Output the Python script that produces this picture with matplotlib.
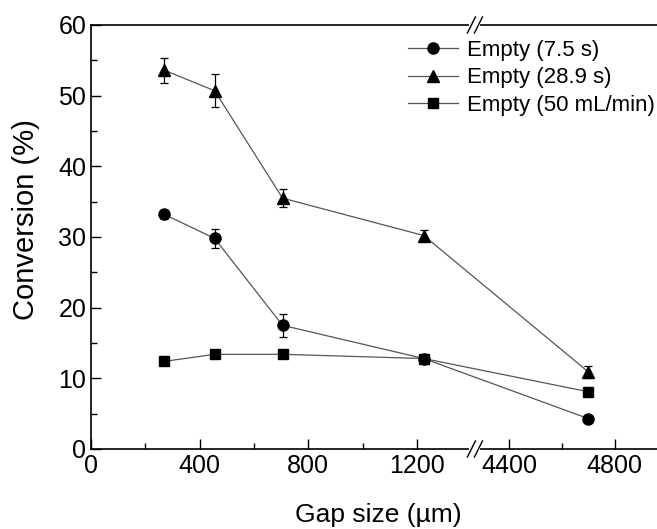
import numpy as np
import matplotlib
matplotlib.use('Agg')
import matplotlib.pyplot as plt
from matplotlib.ticker import FixedLocator

plt.rcParams['font.family'] = ['Liberation Sans', 'DejaVu Sans']

# datos
gap = [270, 455, 705, 1225, 4700]
conv_75 = [33.2, 29.8, 17.5, 12.8, 4.3]
err_75 = [0.6, 1.3, 1.6, 0.3, 0.3]
conv_289 = [53.6, 50.7, 35.5, 30.2, 10.9]
err_289 = [1.8, 2.3, 1.3, 0.8, 0.9]
conv_50 = [12.4, 13.4, 13.4, 12.8, 8.1]
err_50 = [0.3, 0.3, 0.3, 0.3, 0.3]
etiquetas = ['Empty (7.5 s)', 'Empty (28.9 s)', 'Empty (50 mL/min)']

# eje x partido: 0-1400 y 4285-fin
b1, b2, g = 1400.0, 4285.0, 26.0
k = 0.975

def fwd(x):
    x = np.asarray(x, dtype=float)
    return np.where(x <= b1, x, np.where(x >= b2, b1 + g + (x - b2) * k,
                                         b1 + (x - b1) * g / (b2 - b1)))

def inv(y):
    y = np.asarray(y, dtype=float)
    return np.where(y <= b1, y, np.where(y >= b1 + g, b2 + (y - b1 - g) / k,
                                         b1 + (y - b1) * (b2 - b1) / g))

fig = plt.figure(figsize=(6.57, 5.29), dpi=100)
ax = fig.add_axes([91 / 657, 80 / 529, 575 / 657, 424 / 529])
ax.set_xscale('function', functions=(fwd, inv))

series = [(conv_75, err_75, 'o', 8), (conv_289, err_289, '^', 9),
          (conv_50, err_50, 's', 7.5)]
for (y, e, m, ms), lab in zip(series, etiquetas):
    ax.errorbar(gap, y, yerr=e, fmt='none', ecolor='black', elinewidth=0.9,
                capsize=3, capthick=0.9)
    ax.plot(gap, y, '-', color='#555555', lw=0.9, marker=m, ms=ms,
            mfc='black', mec='black', label=lab)

ax.set_xlim(0, 4993)
ax.set_ylim(0, 60)
ax.xaxis.set_major_locator(FixedLocator([0, 400, 800, 1200, 4400, 4800]))
ax.xaxis.set_minor_locator(FixedLocator([200, 600, 1000, 4600]))
ax.set_xticklabels(['0', '400', '800', '1200', '4400', '4800'])
ax.yaxis.set_major_locator(FixedLocator(np.arange(0, 61, 10)))
ax.yaxis.set_minor_locator(FixedLocator(np.arange(5, 60, 10)))
ax.tick_params(which='both', direction='in', top=False, right=False,
               labelsize=18, width=1.0)
ax.tick_params(which='major', length=7)
ax.tick_params(which='minor', length=4)
for s in ax.spines.values():
    s.set_linewidth(1.2)

ax.set_xlabel('Gap size (µm)', fontsize=19, labelpad=18)
ax.set_ylabel('Conversion (%)', fontsize=21)
ax.yaxis.set_label_coords(-0.089, 0.542)

# marcas de corte
x0 = fwd(b1) / fwd(4993)
x1 = fwd(b2) / fwd(4993)
dx, dy = 0.007, 0.019
for yy in (0, 1):
    ax.plot([x0, x1], [yy, yy], transform=ax.transAxes, color='white',
            lw=3, clip_on=False, zorder=5)
    for xx in (x0, x1):
        ax.plot([xx - dx, xx + dx], [yy - dy, yy + dy], transform=ax.transAxes,
                color='black', lw=1.0, clip_on=False, zorder=6)

ax.legend(loc='upper left', bbox_to_anchor=(0.551, 0.965), frameon=False,
          fontsize=16, handlelength=2.25, handletextpad=0.4,
          labelspacing=0.29, borderaxespad=0, borderpad=0)

fig.savefig('out.png', dpi=100)
